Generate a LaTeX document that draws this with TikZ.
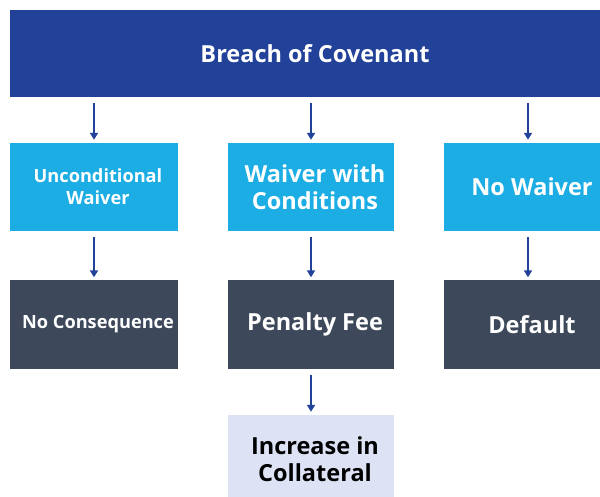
\documentclass[tikz,border=0pt]{standalone}
\usepackage{fontspec}
\setmainfont{Open Sans}
\usetikzlibrary{arrows.meta}
\definecolor{darkblue}{RGB}{34,65,153}
\definecolor{skyblue}{RGB}{27,173,227}
\definecolor{slate}{RGB}{61,73,90}
\definecolor{lavender}{RGB}{221,227,245}
\newcommand{\indentln}{\hspace*{8pt}}

\tikzset{
  box/.style={rectangle, inner sep=0pt, minimum width=168pt, minimum height=88pt,
    align=center, text=white, font=\bfseries\fontsize{23.5}{27}\selectfont},
  small/.style={font=\bfseries\fontsize{18.2}{22}\selectfont},
  flow/.style={draw=darkblue, line width=2pt, -{Triangle[length=7pt,width=8pt]},
    shorten <=6pt, shorten >=3pt}
}

\begin{document}
\begin{tikzpicture}[x=1pt,y=-1pt]
  \clip (0,0) rectangle (600,497);
  \fill[white] (0,0) rectangle (600,497);

  \node[box, fill=darkblue, minimum width=610pt, minimum height=87pt] (breach) at (315,53.5) {Breach of Covenant};

  \node[box, small, fill=skyblue] (uncond) at (94,187) {\indentln Unconditional\\\indentln Waiver};
  \node[box, fill=skyblue, minimum width=166pt] (cond) at (311,187) {\indentln Waiver with\\\indentln Conditions};
  \node[box, fill=skyblue] (nowaiver) at (528,187) {\indentln No Waiver};

  \node[box, small, fill=slate] (nocons) at (94,324.5) {\indentln No Consequence};
  \node[box, fill=slate, minimum width=166pt] (penalty) at (311,324.5) {\indentln Penalty Fee};
  \node[box, fill=slate] (default) at (528,324.5) {\indentln Default};

  \node[box, fill=lavender, text=black, minimum width=166pt] (collat) at (311,459) {\indentln Increase in\\\indentln Collateral};

  \draw[flow] (breach.south -| uncond) -- (uncond);
  \draw[flow] (breach.south -| cond) -- (cond);
  \draw[flow] (breach.south -| nowaiver) -- (nowaiver);
  \draw[flow] (uncond) -- (nocons);
  \draw[flow] (cond) -- (penalty);
  \draw[flow] (nowaiver) -- (default);
  \draw[flow] (penalty) -- (collat);
\end{tikzpicture}
\end{document}
